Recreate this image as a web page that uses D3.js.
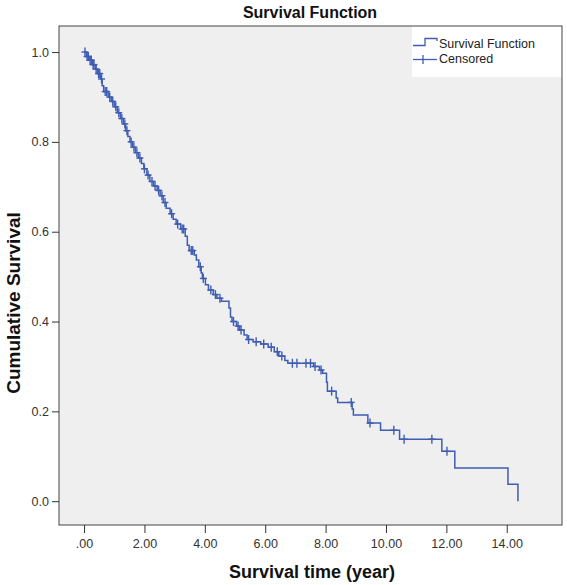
<!DOCTYPE html>
<html>
<head>
<meta charset="utf-8">
<script src="https://cdn.jsdelivr.net/npm/d3@7"></script>
<style>
  html, body { margin: 0; padding: 0; background: #ffffff; }
  svg { display: block; font-family: "Liberation Sans", Arial, sans-serif; }
</style>
</head>
<body>
<svg id="chart" width="567" height="585"></svg>
<script>
// ---- Data ----
const eventTimes = [0.08,0.18,0.28,0.38,0.45,0.55,0.60,0.65,0.80,0.90,1.00,1.10,1.20,1.30,1.38,1.45,1.52,1.60,1.70,1.80,1.90,1.98,2.08,2.18,2.30,2.42,2.52,2.62,2.72,2.85,2.95,3.05,3.20,3.35,3.42,3.48,3.65,3.72,3.80,3.88,3.92,4.02,4.12,4.28,4.40,4.55,4.80,4.85,4.90,5.05,5.15,5.30,5.40,5.60,5.85,6.10,6.30,6.45,6.65,6.75,7.60,7.80,7.90,8.03,8.06,8.35,8.40,8.88,8.92,9.40,9.82,10.45,11.85,12.28,14.04,14.37];
const survivalValues = [0.990,0.982,0.972,0.962,0.952,0.940,0.925,0.912,0.900,0.890,0.878,0.865,0.852,0.840,0.825,0.812,0.800,0.788,0.776,0.764,0.752,0.740,0.726,0.712,0.702,0.692,0.680,0.665,0.652,0.640,0.628,0.617,0.606,0.590,0.570,0.558,0.548,0.537,0.522,0.508,0.496,0.482,0.470,0.460,0.452,0.445,0.430,0.410,0.400,0.390,0.381,0.370,0.360,0.355,0.350,0.343,0.333,0.323,0.313,0.307,0.300,0.292,0.285,0.265,0.245,0.230,0.220,0.205,0.192,0.174,0.158,0.138,0.111,0.074,0.038,0.000];
const censoredTimes = [0.03,0.10,0.14,0.20,0.24,0.30,0.33,0.40,0.48,0.52,0.58,0.70,0.75,0.85,0.95,1.05,1.15,1.25,1.35,1.42,1.56,1.65,1.75,1.85,2.00,2.12,2.25,2.35,2.47,2.58,2.68,2.90,3.10,3.25,3.30,3.55,3.60,3.85,3.95,4.20,4.35,4.50,4.95,5.10,5.20,5.45,5.70,5.95,6.20,6.40,6.55,6.90,7.05,7.35,7.50,7.65,7.85,8.20,8.85,9.47,10.26,10.60,11.52,12.02];
const xTickValues = [0,2,4,6,8,10,12,14];
const xTickLabels = [".00","2.00","4.00","6.00","8.00","10.00","12.00","14.00"];
const yTickValues = [0,0.2,0.4,0.6,0.8,1.0];
const yTickLabels = ["0.0","0.2","0.4","0.6","0.8","1.0"];
const legendLabels = ["Survival Function","Censored"];

// ---- Layout ----
const plot = {left: 59, top: 26, right: 562, bottom: 525};
const lineColor = "#3f5db3";
const svg = d3.select("#chart");

const x = d3.scaleLinear().domain([-0.83, 15.83]).range([plot.left, plot.right]);
const y = d3.scaleLinear().domain([-0.053, 1.058]).range([plot.bottom, plot.top]);

// plot background
svg.append("rect")
  .attr("x", plot.left).attr("y", plot.top)
  .attr("width", plot.right - plot.left).attr("height", plot.bottom - plot.top)
  .attr("fill", "#efefef");

// step curve
const pts = [[0, 1]].concat(eventTimes.map((t, i) => [t, survivalValues[i]]));
const line = d3.line().x(d => x(d[0])).y(d => y(d[1])).curve(d3.curveStepAfter);
svg.append("path").attr("d", line(pts))
  .attr("fill", "none").attr("stroke", lineColor).attr("stroke-width", 1.5);

// censored marks
function survAt(t) {
  let s = 1;
  for (let i = 0; i < eventTimes.length; i++) { if (eventTimes[i] <= t) s = survivalValues[i]; }
  return s;
}
const cg = svg.append("g").attr("stroke", lineColor).attr("stroke-width", 1.4);
censoredTimes.forEach(t => {
  const cx = x(t), cy = y(survAt(t));
  cg.append("line").attr("x1", cx).attr("x2", cx).attr("y1", cy - 4.5).attr("y2", cy + 4.5);
  cg.append("line").attr("x1", cx - 3.5).attr("x2", cx + 3.5).attr("y1", cy).attr("y2", cy);
});

// legend
svg.append("rect").attr("x", 412).attr("y", plot.top).attr("width", plot.right - 412).attr("height", 51)
  .attr("fill", "#ffffff");
const lg = svg.append("g");
lg.append("path").attr("d", "M413,45.5 H425 V38.5 H437 V41")
  .attr("fill", "none").attr("stroke", lineColor).attr("stroke-width", 1.3);
lg.append("line").attr("x1", 413).attr("x2", 437).attr("y1", 59.5).attr("y2", 59.5)
  .attr("stroke", lineColor).attr("stroke-width", 1.3);
lg.append("line").attr("x1", 423).attr("x2", 423).attr("y1", 55).attr("y2", 64)
  .attr("stroke", lineColor).attr("stroke-width", 1.3);
legendLabels.forEach((lab, i) => {
  lg.append("text").attr("x", 439).attr("y", 47.5 + i * 15.5)
    .attr("font-size", 12.5).attr("fill", "#222").text(lab);
});

// plot border
svg.append("rect")
  .attr("x", plot.left).attr("y", plot.top)
  .attr("width", plot.right - plot.left).attr("height", plot.bottom - plot.top)
  .attr("fill", "none").attr("stroke", "#444").attr("stroke-width", 1);

// axes
const xAxis = d3.axisBottom(x).tickValues(xTickValues)
  .tickFormat((d, i) => xTickLabels[i]).tickSizeOuter(0).tickSize(8).tickPadding(6);
const gx = svg.append("g").attr("transform", `translate(0,${plot.bottom})`).call(xAxis);
gx.select(".domain").remove();
gx.selectAll("line").attr("stroke", "#333");
gx.selectAll("text").attr("font-size", 12.5).attr("fill", "#333")
  .attr("font-family", "'Liberation Sans', Arial, sans-serif");

const yAxis = d3.axisLeft(y).tickValues(yTickValues)
  .tickFormat((d, i) => yTickLabels[i]).tickSizeOuter(0).tickSize(7).tickPadding(3);
const gy = svg.append("g").attr("transform", `translate(${plot.left},0)`).call(yAxis);
gy.select(".domain").remove();
gy.selectAll("line").attr("stroke", "#333");
gy.selectAll("text").attr("font-size", 12.5).attr("fill", "#333")
  .attr("font-family", "'Liberation Sans', Arial, sans-serif");

// titles
svg.append("text").attr("x", 310).attr("y", 18).attr("text-anchor", "middle")
  .attr("font-size", 16).attr("font-weight", "bold").attr("fill", "#111").text("Survival Function");
svg.append("text").attr("x", 312).attr("y", 578).attr("text-anchor", "middle")
  .attr("font-size", 18).attr("font-weight", "bold").attr("fill", "#111").text("Survival time (year)");
svg.append("text").attr("transform", "translate(20,303) rotate(-90)").attr("text-anchor", "middle")
  .attr("font-size", 19).attr("font-weight", "bold").attr("fill", "#111").text("Cumulative Survival");
</script>
</body>
</html>
